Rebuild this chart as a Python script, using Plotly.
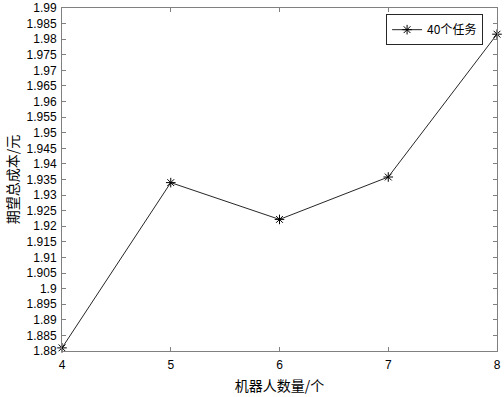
import plotly.graph_objects as go

robots = [4, 5, 6, 7, 8]
cost = [1.881, 1.934, 1.9222, 1.9358, 1.9816]
series_name = "40个任务"

fig = go.Figure()
fig.add_trace(go.Scatter(
    x=robots, y=cost, mode="lines+markers", name=series_name,
    line=dict(color="#262626", width=1),
    marker=dict(symbol="asterisk-open", size=8, color="#000000", line=dict(width=1, color="#000000")),
    cliponaxis=False,
))

axis_common = dict(
    showline=True, linecolor="#808080", linewidth=1, mirror="ticks",
    ticks="inside", ticklen=4, tickcolor="#808080",
    showgrid=False, zeroline=False, automargin=False,
    tickfont=dict(family="Liberation Sans, Arial", size=12, color="#000000"),
)

fig.update_layout(
    width=504, height=397,
    margin=dict(l=62, r=7, t=8, b=46),
    plot_bgcolor="white", paper_bgcolor="white",
    xaxis=dict(range=[4, 8], tickvals=robots, ticktext=[str(v) for v in robots],
               ticklabeloverflow="allow", ticklabelstandoff=3,
               title=dict(text="机器人数量/个", font=dict(family="Noto Sans CJK SC", size=14, color="#000"), standoff=9),
               **axis_common),
    yaxis=dict(range=[1.88, 1.99], dtick=0.005, tick0=1.88, tickformat="~g",
               ticklabeloverflow="allow", ticklabelstandoff=2,
               title=dict(text="期望总成本/元", font=dict(family="Noto Sans CJK SC", size=14, color="#000"), standoff=4),
               **axis_common),
    legend=dict(x=0.968, y=0.982, xanchor="right", yanchor="top",
                bordercolor="#262626", borderwidth=1, bgcolor="white",
                font=dict(family="Noto Sans CJK SC", size=12, color="#000"),
                itemwidth=30, tracegroupgap=0),
    showlegend=True,
)

fig.write_html("out.html", config={"displayModeBar": False},
               post_script="document.body.style.margin='0';document.body.style.padding='0';")
